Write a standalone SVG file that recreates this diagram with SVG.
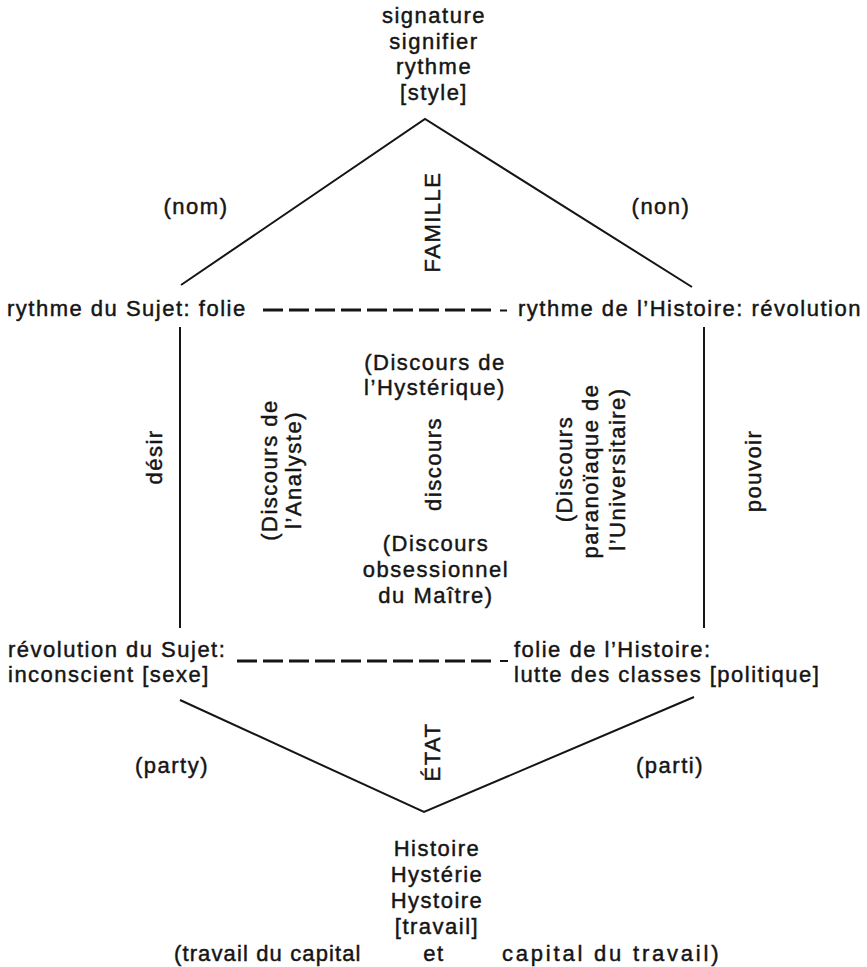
<svg xmlns="http://www.w3.org/2000/svg" width="867" height="967" viewBox="0 0 867 967">
<style>
text{font-family:"Liberation Sans",Arial,sans-serif;font-size:22px;fill:#151515;stroke:#151515;stroke-width:0.45px;letter-spacing:1.5px}
.m{text-anchor:middle}
.e{text-anchor:end}
.ln{stroke:#151515;stroke-width:2;fill:none}
.ds{stroke:#151515;stroke-width:3;fill:none;stroke-dasharray:20 6}
</style>
<rect width="867" height="967" fill="#ffffff"/>
<g id="connectors">
<polyline class="ln" points="181,285 425,119 692,287"/>
<polyline class="ln" points="180,700 424,812 694,697"/>
<line class="ln" x1="180" y1="327" x2="180" y2="628"/>
<line class="ln" x1="704" y1="327" x2="704" y2="628"/>
<line class="ds" x1="263" y1="310" x2="497" y2="310"/>
<line class="ln" x1="500" y1="310.5" x2="507" y2="310.5" stroke-width="3"/>
<line class="ds" x1="237" y1="661" x2="497" y2="661"/>
<line class="ln" x1="500" y1="661" x2="508" y2="661" stroke-width="3"/>
</g>
<g id="top">
<text class="m" x="434" y="23">signature</text>
<text class="m" x="434" y="49">signifier</text>
<text class="m" x="434" y="74">rythme</text>
<text class="m" x="434" y="100">[style]</text>
</g>
<g id="nom"><text class="m" x="196" y="214">(nom)</text></g>
<g id="non"><text class="m" x="661" y="214">(non)</text></g>
<g id="famille"><text class="m" transform="translate(440,222) rotate(-90)">FAMILLE</text></g>
<g id="sujet-folie"><text x="7" y="316">rythme du Sujet: folie</text></g>
<g id="histoire-revolution"><text x="518" y="316">rythme de l’Histoire: révolution</text></g>
<g id="hysterique">
<text class="m" x="435" y="370">(Discours de</text>
<text class="m" x="435" y="395">l’Hystérique)</text>
</g>
<g id="desir"><text class="m" transform="translate(162,457) rotate(-90)">désir</text></g>
<g id="analyste">
<text class="m" transform="translate(277,470) rotate(-90)">(Discours de</text>
<text class="m" transform="translate(301,470) rotate(-90)">l’Analyste)</text>
</g>
<g id="discours"><text class="m" transform="translate(441,464) rotate(-90)">discours</text></g>
<g id="universitaire">
<text class="m" transform="translate(572,469) rotate(-90)">(Discours</text>
<text class="m" transform="translate(598,471) rotate(-90)">paranoïaque de</text>
<text class="m" transform="translate(625,469) rotate(-90)">l’Universitaire)</text>
</g>
<g id="pouvoir"><text class="m" transform="translate(761,471) rotate(-90)">pouvoir</text></g>
<g id="maitre">
<text class="m" x="436" y="551">(Discours</text>
<text class="m" x="436" y="577">obsessionnel</text>
<text class="m" x="436" y="603">du Maître)</text>
</g>
<g id="sujet-revolution">
<text x="8" y="657">révolution du Sujet:</text>
<text x="8" y="682">inconscient [sexe]</text>
</g>
<g id="histoire-folie">
<text x="514" y="657">folie de l’Histoire:</text>
<text x="514" y="682">lutte des classes [politique]</text>
</g>
<g id="etat"><text class="m" transform="translate(440,752) rotate(-90)">ÉTAT</text></g>
<g id="party"><text class="m" x="172" y="773">(party)</text></g>
<g id="parti"><text class="m" x="670" y="773">(parti)</text></g>
<g id="bottom">
<text class="m" x="437" y="856">Histoire</text>
<text class="m" x="437" y="882">Hystérie</text>
<text class="m" x="437" y="908">Hystoire</text>
<text class="m" x="437" y="934">[travail]</text>
<text x="174" y="961" textLength="188" lengthAdjust="spacing">(travail du capital</text>
<text class="m" x="434" y="961">et</text>
<text x="502" y="961" textLength="218" lengthAdjust="spacing">capital du travail)</text>
</g>
</svg>
